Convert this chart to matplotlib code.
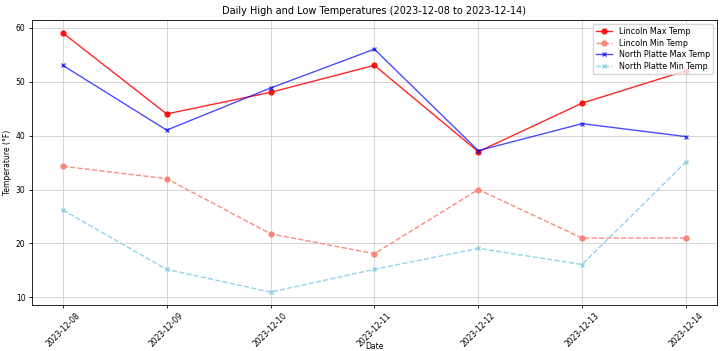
import matplotlib.pyplot as plt

dates = ['2023-12-08', '2023-12-09', '2023-12-10', '2023-12-11',
         '2023-12-12', '2023-12-13', '2023-12-14']
lincoln_max = [59, 44, 48, 53, 37, 46, 52]
lincoln_min = [34.3, 32, 21.8, 18.1, 30, 21, 21]
np_max = [53, 41, 48.8, 56, 37.2, 42.2, 39.8]
np_min = [26.2, 15.2, 11, 15.2, 19.1, 16.1, 35.1]

x = list(range(len(dates)))

fig = plt.figure(figsize=(7.2, 3.51), dpi=100)
ax = fig.add_axes([0.044, 0.131, 0.952, 0.812])

ax.plot(x, lincoln_max, color='red', marker='o', markersize=3.5, linewidth=1, alpha=0.85, label='Lincoln Max Temp')
ax.plot(x, lincoln_min, color='salmon', marker='o', markersize=3.5, linewidth=1, linestyle='--', alpha=0.9, label='Lincoln Min Temp')
ax.plot(x, np_max, color='blue', marker='x', markersize=3.5, linewidth=1, alpha=0.7, label='North Platte Max Temp')
ax.plot(x, np_min, color='skyblue', marker='x', markersize=3.5, linewidth=1, linestyle='--', alpha=0.9, label='North Platte Min Temp')

ax.set_xticks(x)
ax.set_xticklabels(dates, rotation=45, fontsize=5.5)
ax.tick_params(axis='y', labelsize=5.5)
ax.tick_params(length=2.5, width=0.6, pad=2)
ax.set_title('Daily High and Low Temperatures (2023-12-08 to 2023-12-14)', fontsize=7, pad=4)
ax.set_xlabel('Date', fontsize=5.5)
ax.xaxis.set_label_coords(0.5, -0.128)
ax.set_ylabel('Temperature (°F)', fontsize=5.5, labelpad=3)
ax.grid(True, linewidth=0.6, color='#d0d0d0')
for s in ax.spines.values():
    s.set_linewidth(0.6)
ax.legend(fontsize=5.8, loc='upper right', handlelength=2, borderpad=0.4, labelspacing=0.3)

fig.savefig('out.png', dpi=100)
